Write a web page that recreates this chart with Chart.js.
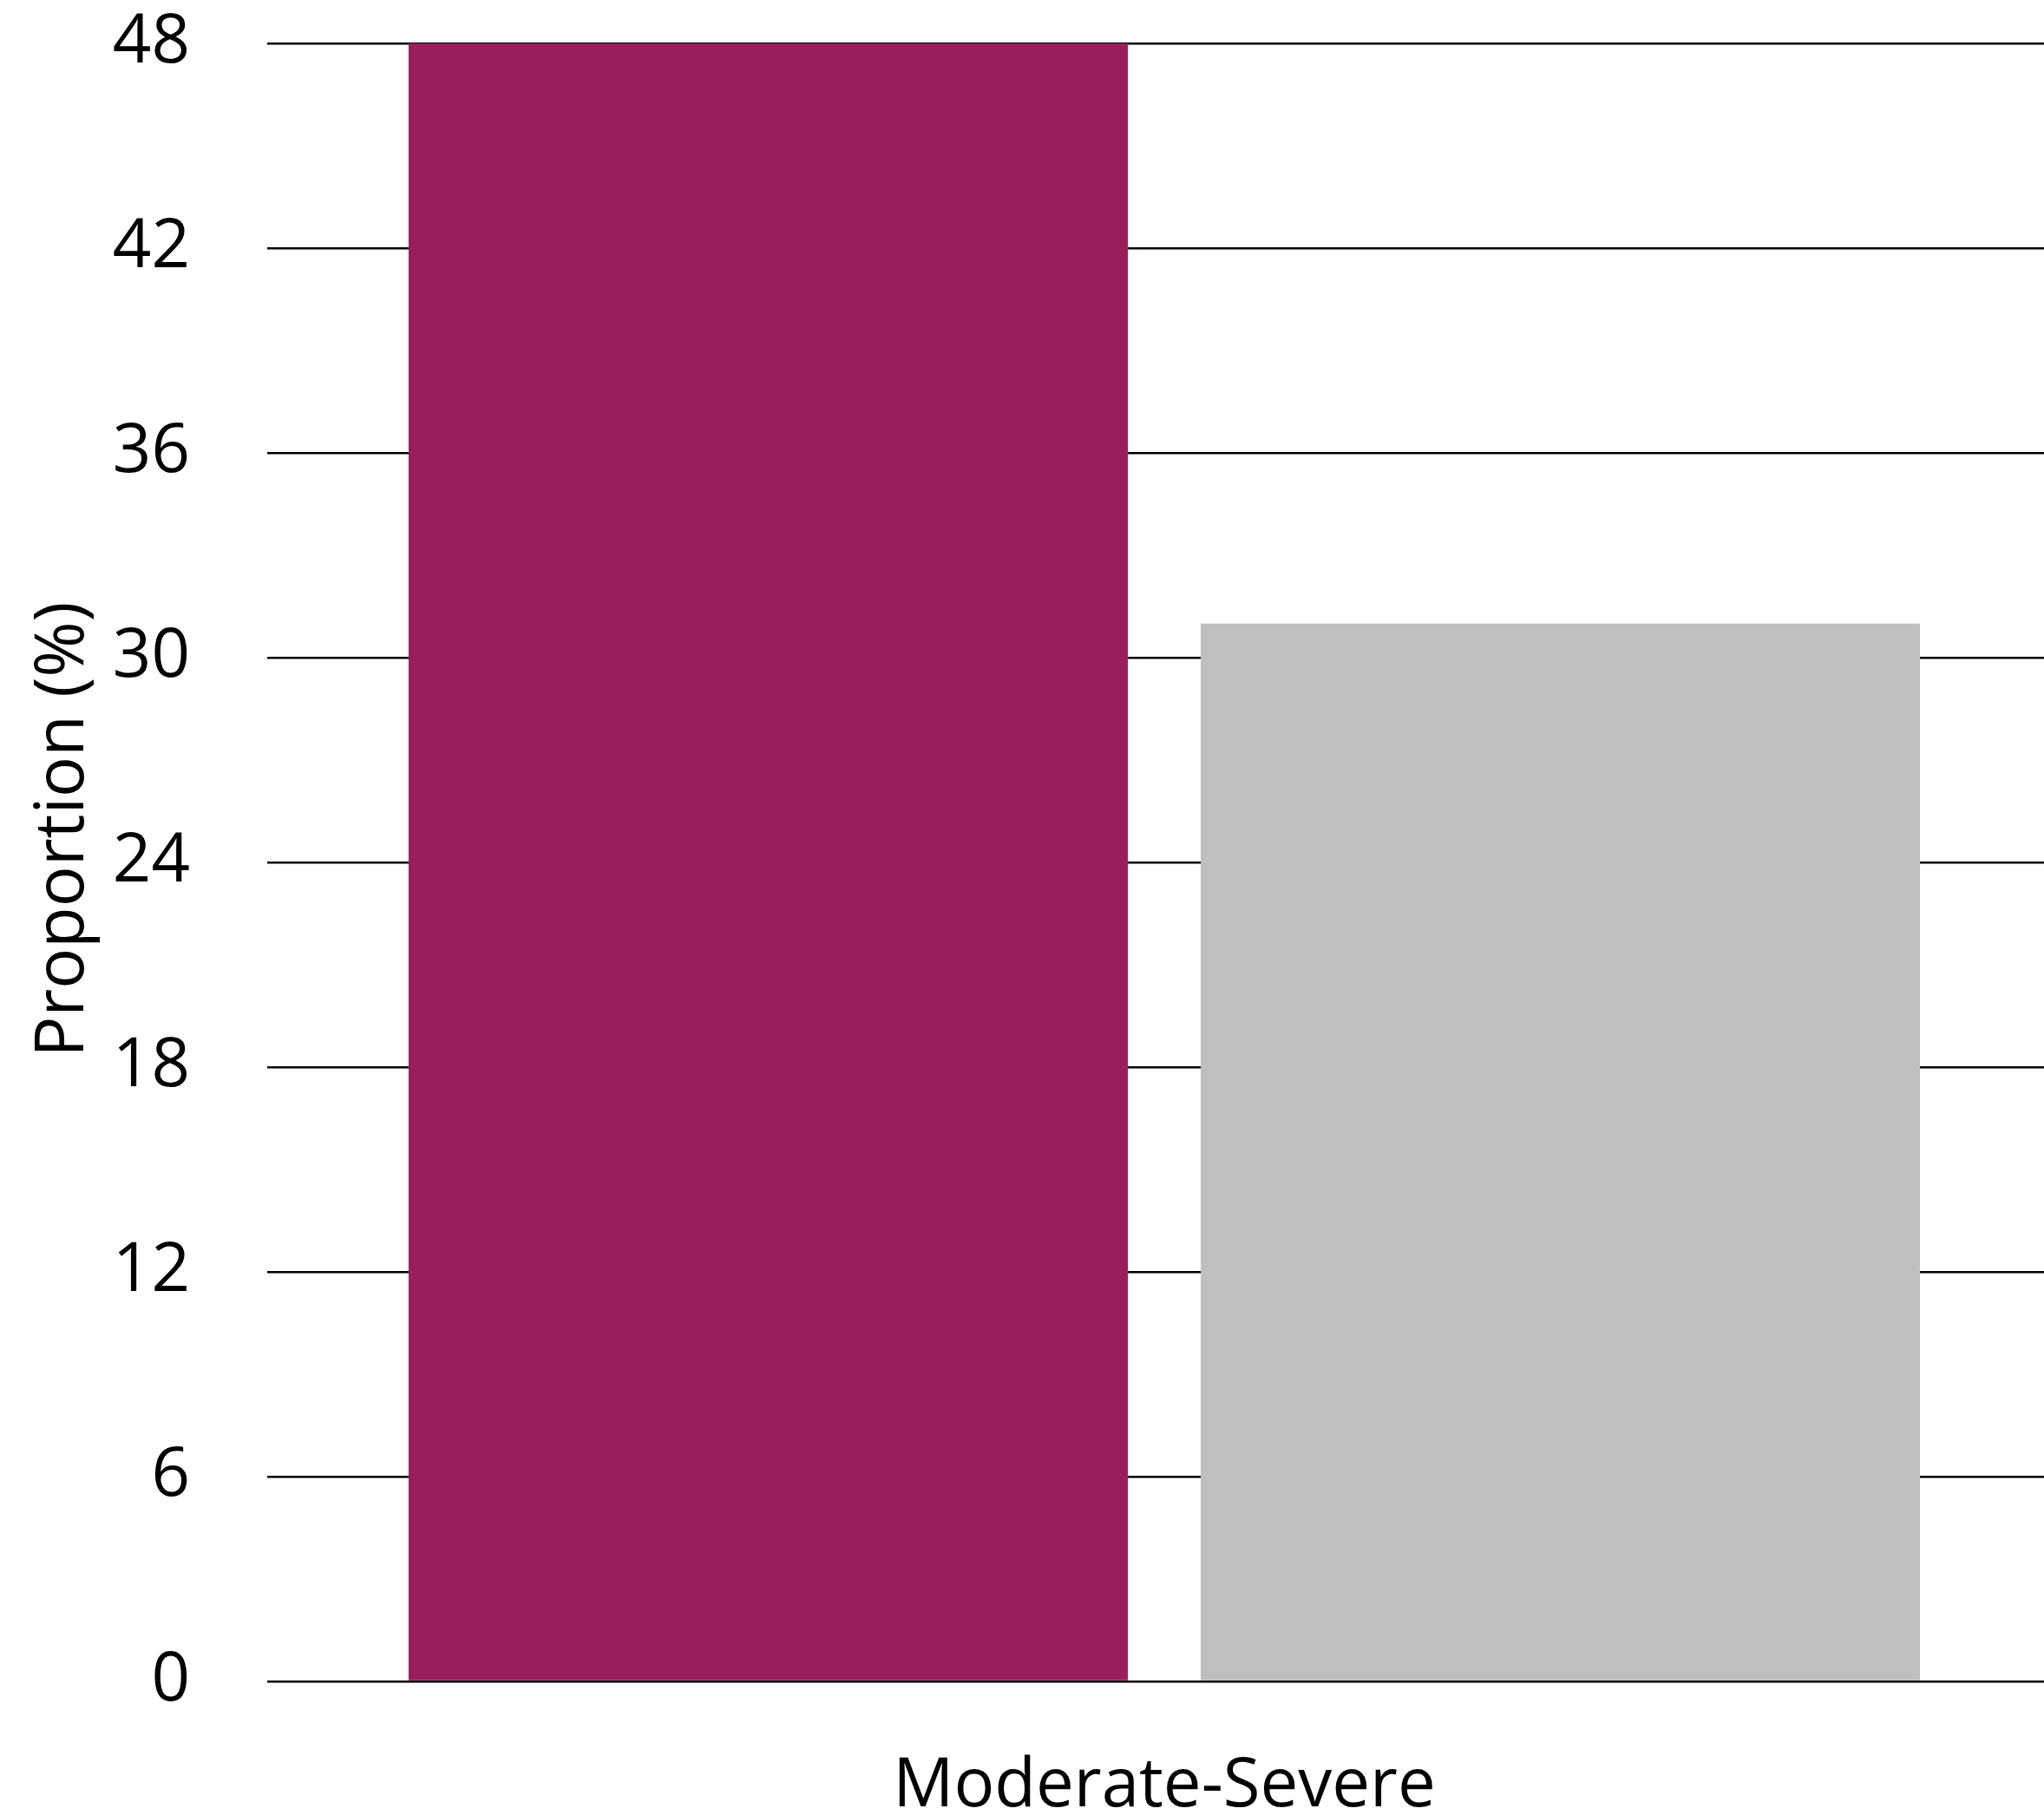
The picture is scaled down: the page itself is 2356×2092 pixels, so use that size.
<!DOCTYPE html>
<html>
<head>
<meta charset="utf-8">
<script src="https://cdn.jsdelivr.net/npm/chart.js@4/dist/chart.umd.min.js"></script>
<style>
  html, body { margin: 0; padding: 0; background: #ffffff; overflow: hidden; }
  #wrap { width: 2376px; height: 2092px; }
</style>
</head>
<body>
<div id="wrap"><canvas id="c" width="2376" height="2092"></canvas></div>
<script>
const categories = ["Moderate-Severe"];
const seriesNames = ["Group A", "Group B"];
const seriesA = [48];
const seriesB = [31];
const yTicks = [0, 6, 12, 18, 24, 30, 36, 42, 48];
const yTitle = "Proportion (%)";

const FONT = "'Open Sans', 'DejaVu Sans', sans-serif";

const yTitlePlugin = {
  id: 'yTitlePlugin',
  afterDraw(chart) {
    const ctx = chart.ctx;
    ctx.save();
    ctx.translate(74, 956);
    ctx.rotate(-Math.PI / 2);
    ctx.fillStyle = '#000';
    ctx.font = "78px " + FONT;
    ctx.textAlign = 'center';
    ctx.textBaseline = 'middle';
    ctx.fillText(yTitle, 0, 0);
    ctx.restore();
  }
};

new Chart(document.getElementById('c'), {
  type: 'bar',
  data: {
    labels: categories,
    datasets: [
      { label: seriesNames[0], data: seriesA, backgroundColor: '#981F5A', borderWidth: 0 },
      { label: seriesNames[1], data: seriesB, backgroundColor: '#BFBFBF', borderWidth: 0 }
    ]
  },
  plugins: [yTitlePlugin],
  options: {
    responsive: false,
    animation: false,
    devicePixelRatio: 1,
    categoryPercentage: 0.883,
    barPercentage: 0.908,
    layout: { padding: { top: 50, bottom: 0, left: 0, right: 0 } },
    plugins: { legend: { display: false }, tooltip: { enabled: false } },
    scales: {
      x: {
        afterFit: (axis) => { axis.height = 154; axis.paddingLeft = 0; axis.paddingRight = 0; },
        grid: { display: false, drawTicks: false },
        border: { display: false },
        ticks: { color: '#000', font: { family: FONT, size: 78, lineHeight: 1.0 }, padding: 83, maxRotation: 0 }
      },
      y: {
        min: 0,
        max: 48,
        afterBuildTicks: (axis) => { axis.ticks = yTicks.map(v => ({ value: v })); },
        afterFit: (axis) => { axis.width = 308; axis.paddingTop = 0; axis.paddingBottom = 0; },
        grid: { color: '#000', lineWidth: 2.5, drawTicks: false },
        border: { display: false },
        ticks: { color: '#000', font: { family: FONT, size: 78 }, padding: 89 },
        title: { display: false }
      }
    }
  }
});
</script>
</body>
</html>
